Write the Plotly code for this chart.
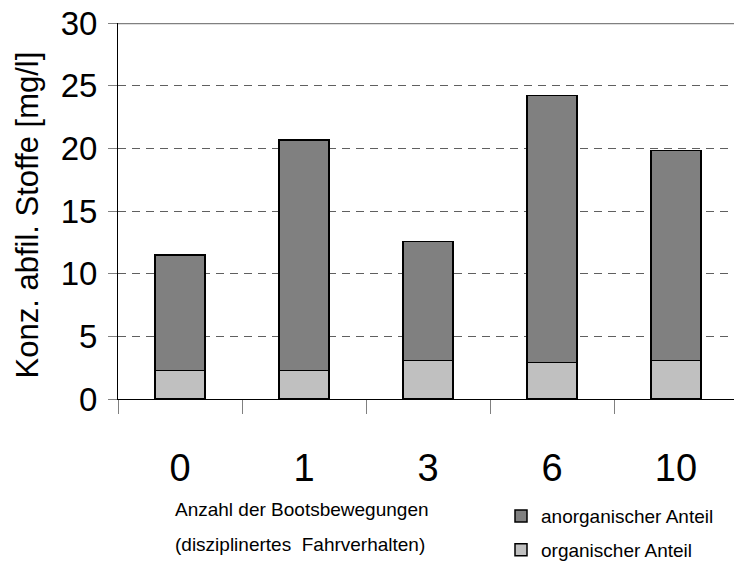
import plotly.graph_objects as go

categories = ["0", "1", "3", "6", "10"]
organisch = [2.26, 2.26, 3.08, 2.92, 3.08]
anorganisch = [9.23, 18.39, 9.50, 21.30, 16.75]
y_ticks = [0, 5, 10, 15, 20, 25, 30]

FONT = "Liberation Sans, Arial, sans-serif"
W, H = 734, 569
L, T, PW, PH = 118, 22.5, 616, 378
def px_x(p):
    return (p - L) / PW
def px_y(p):
    return (T + PH - p) / PH

fig = go.Figure()
fig.add_trace(go.Bar(
    x=categories, y=organisch, name="organischer Anteil",
    marker=dict(color="#c0c0c0", line=dict(color="#000000", width=1.5)),
    width=0.4, legend="legend2",
))
fig.add_trace(go.Bar(
    x=categories, y=anorganisch, name="anorganischer Anteil",
    marker=dict(color="#808080", line=dict(color="#000000", width=1.5)),
    width=0.4, legend="legend",
))

fig.update_layout(
    width=W, height=H, barmode="stack",
    margin=dict(l=L, r=W - L - PW, t=T, b=H - T - PH, pad=0),
    plot_bgcolor="white", paper_bgcolor="white",
    font=dict(family=FONT, color="black"),
    showlegend=True,
    legend=dict(x=px_x(501), y=px_y(517), xanchor="left", yanchor="middle",
                font=dict(size=19, family=FONT), itemwidth=30, bgcolor="rgba(0,0,0,0)"),
    legend2=dict(x=px_x(501), y=px_y(552), xanchor="left", yanchor="middle",
                 font=dict(size=19, family=FONT), itemwidth=30, bgcolor="rgba(0,0,0,0)"),
    xaxis=dict(
        type="category", range=[-0.5, -0.5 + PW / 124.0],
        showline=True, linecolor="black", linewidth=1,
        ticks="outside", ticklen=14, tickcolor="#808080", tickwidth=1,
        tickson="boundaries", showgrid=False,
        tickfont=dict(size=38, family=FONT), ticklabelstandoff=35,
    ),
    yaxis=dict(
        range=[0, 30], tickvals=y_ticks, ticktext=[str(v) for v in y_ticks],
        showline=True, linecolor="black", linewidth=1,
        ticks="outside", ticklen=9, tickcolor="#808080", tickwidth=1,
        showgrid=True, gridcolor="#606060", gridwidth=1, griddash="8px,6px",
        zeroline=False,
        tickfont=dict(size=33, family=FONT), ticklabelstandoff=4,
    ),
    shapes=[dict(type="line", xref="paper", x0=0, x1=1, yref="y", y0=y_ticks[-1], y1=y_ticks[-1],
                 line=dict(color="#808080", width=2.5))],
    annotations=[
        dict(text="Konz. abfil. Stoffe [mg/l]", textangle=-90, xref="paper", yref="paper",
             x=px_x(27), y=px_y(216), xanchor="center", yanchor="middle", showarrow=False,
             font=dict(size=31, family=FONT)),
        dict(text="Anzahl der Bootsbewegungen", xref="paper", yref="paper",
             x=px_x(173), y=px_y(512), xanchor="left", yanchor="middle", showarrow=False,
             font=dict(size=19, family=FONT)),
        dict(text="(disziplinertes  Fahrverhalten)", xref="paper", yref="paper",
             x=px_x(173), y=px_y(547), xanchor="left", yanchor="middle", showarrow=False,
             font=dict(size=19, family=FONT)),
    ],
)

fig.write_html("out.html", config={"displayModeBar": False},
               post_script="document.body.style.margin='0';document.body.style.padding='0';")
